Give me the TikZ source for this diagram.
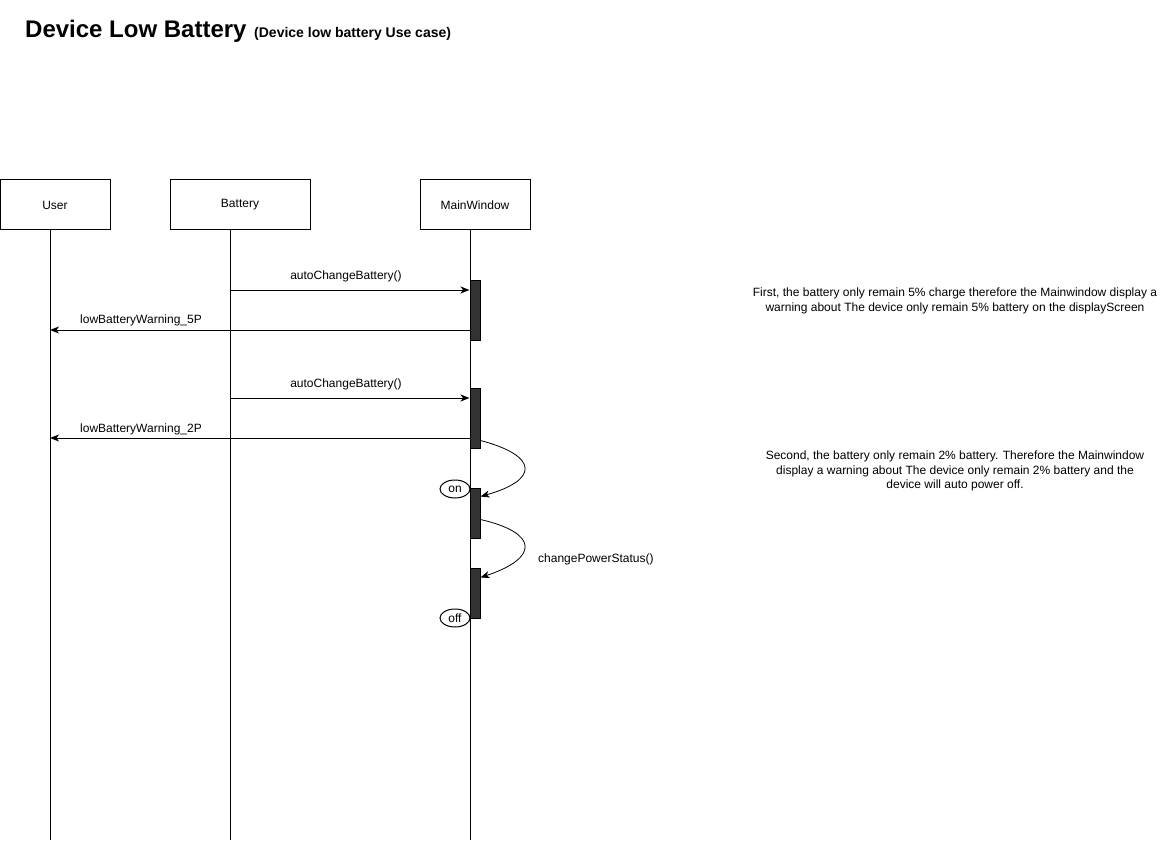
\documentclass[tikz,border=0pt]{standalone}
\usepackage{fontspec}
\setmainfont{Liberation Sans}
\usetikzlibrary{arrows.meta,shapes.geometric}
\begin{document}
\begin{tikzpicture}[x=1pt,y=-1pt,
  txt/.style={font=\fontsize{12}{14.4}\selectfont,inner sep=0pt},
  actor/.style={draw,line width=1pt,minimum height=50pt,inner sep=0pt,font=\fontsize{12}{14.4}\selectfont},
  lifeline/.style={line width=1pt},
  act/.style={draw,line width=1pt,fill=black!80,minimum width=10pt,inner sep=0pt},
  msg/.style={line width=1pt,-{Stealth[length=9pt,width=7pt,inset=2.5pt]}},
  selfmsg/.style={line width=0.8pt,-{Stealth[length=9pt,width=7pt,inset=2.5pt]}},
  state/.style={draw,ellipse,line width=1pt,minimum width=30pt,minimum height=18pt,inner sep=0pt,font=\fontsize{12}{14.4}\selectfont},
  note/.style={txt,align=center}
]
\useasboundingbox (0,0) rectangle (1161,842);

% title
\node[anchor=base west,inner sep=0pt,font=\fontsize{24}{28}\selectfont\bfseries] (title) at (25,38) {Device Low Battery};
\node[anchor=base west,inner sep=0pt,font=\fontsize{14}{16}\selectfont\bfseries] (subtitle) at (254,38) {(Device low battery Use case)};

% actors
\node[actor,minimum width=110pt] (user) at (55,205) {User};
\node[actor,minimum width=140pt] (battery) at (240,205) {Battery};
\node[actor,minimum width=110pt] (mainwin) at (475,205) {MainWindow};

% lifelines
\coordinate (uTop) at (50,230);  \coordinate (uBot) at (50,840);
\coordinate (bTop) at (230,230); \coordinate (bBot) at (230,840);
\coordinate (mTop) at (470,230); \coordinate (mBot) at (470,840);
\draw[lifeline] (uTop) -- (uBot);
\draw[lifeline] (bTop) -- (bBot);
\draw[lifeline] (mTop) -- (mBot);

% activations
\node[act,minimum height=60pt] (a1) at (475,310) {};
\node[act,minimum height=60pt] (a2) at (475,418) {};
\node[act,minimum height=50pt] (a3) at (475,513) {};
\node[act,minimum height=50pt] (a4) at (475,593) {};

% messages
\coordinate (m1) at (230,290);
\draw[msg] (m1) -- (a1.west |- m1);
\node[txt] (l1) at (346,276) {autoChangeBattery()};

\coordinate (m2) at (50,330);
\draw[msg] (a1.west |- m2) -- (m2);
\node[txt,anchor=west] (l2) at (80,320) {lowBatteryWarning\_5P};

\coordinate (m3) at (230,398);
\draw[msg] (m3) -- (a2.west |- m3);
\node[txt] (l3) at (346,384) {autoChangeBattery()};

\coordinate (m4) at (50,438);
\draw[msg] (a2.west |- m4) -- (m4);
\node[txt,anchor=west] (l4) at (80,429) {lowBatteryWarning\_2P};

% self calls
\draw[selfmsg] ([yshift=8pt]a2.south east) .. controls (539,456) and (539,480) .. ([yshift=-9pt]a3.north east);
\draw[selfmsg] ([yshift=19pt]a3.south east) .. controls (539,533) and (539,558) .. ([yshift=-10pt]a4.north east);
\node[txt,anchor=west] (l5) at (538,559) {changePowerStatus()};

% states
\node[state] (on) at (455,489) {on};
\node[state] (off) at (455,618) {off};

% notes
\node[note] (n1) at (955,301) {First, the battery only remain 5\% charge therefore the Mainwindow display a\\warning about The device only remain 5\% battery on the displayScreen};
\node[note] (n2) at (955,471) {Second, the battery only remain 2\% battery. Therefore the Mainwindow\\display a warning about The device only remain 2\% battery and the\\device will auto power off.};
\end{tikzpicture}
\end{document}
